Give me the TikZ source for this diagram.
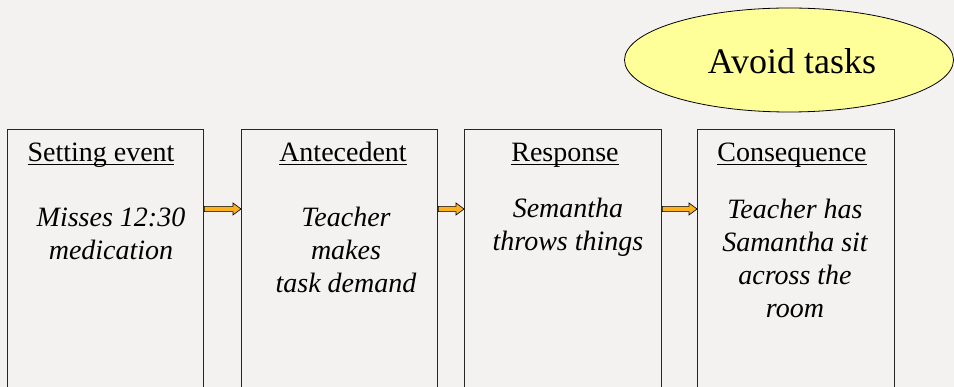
\documentclass[tikz,border=0pt]{standalone}
\usepackage{fontspec}
\setmainfont{Liberation Serif}[ItalicFont={Liberation Serif Italic},BoldFont={Liberation Serif Bold}]
\newcommand{\myunderline}[1]{\setbox0\hbox{#1}\rlap{\vrule width\wd0 height -1.6pt depth 3.2pt}#1}
\usetikzlibrary{shapes.geometric,calc}
\definecolor{bg}{HTML}{F3F2F0}
\definecolor{arr}{HTML}{FBB01E}
\definecolor{ell}{HTML}{FFFF99}
\begin{document}
\begin{tikzpicture}[x=1pt,y=-1pt,
  box/.style={draw=black!85, line width=1.3pt, minimum height=290pt, anchor=north west, inner sep=0pt},
  head/.style={font=\fontsize{28}{33.3}\selectfont, anchor=base, inner sep=0pt},
  body/.style={font=\fontsize{28}{33.3}\selectfont\itshape, align=center, anchor=base, inner sep=0pt},
  blockarrow/.style={draw=black, line width=0.6pt, fill=arr,
    to path={let \p1=(\tikztostart), \p2=(\tikztotarget) in
      (\x1,\y1+2.6pt) -- (\x2-8pt,\y1+2.6pt) -- (\x2-8pt,\y1+6pt) -- (\x2,\y1)
      -- (\x2-8pt,\y1-6pt) -- (\x2-8pt,\y1-2.6pt) -- (\x1,\y1-2.6pt) -- cycle}},
  oval/.style={ellipse, draw=black, line width=0.8pt, fill=ell, minimum width=329pt,
    minimum height=104pt, inner sep=0pt, font=\fontsize{36}{40}\selectfont}
]
\useasboundingbox (0,0) rectangle (954,387);
\fill[bg] (0,0) rectangle (954,387);
\clip (0,0) rectangle (954,387);

\node[oval] (av) at (789,60) {};
\node[font=\fontsize{36}{40}\selectfont, anchor=base, inner sep=0pt] (avt) at (792,74) {Avoid tasks};

\node[box, minimum width=196pt] (s1) at (7,129) {};
\node[box, minimum width=196pt] (s2) at (241,129) {};
\node[box, minimum width=197pt] (s3) at (464,129) {};
\node[box, minimum width=197pt] (s4) at (697,129) {};

\node[head] (h1) at (101,162) {\myunderline{Setting event}};
\node[head] (h2) at (343,162) {\myunderline{Antecedent}};
\node[head] (h3) at (565,162) {\myunderline{Response}};
\node[head] (h4) at (792,162) {\myunderline{Consequence}};

\node[body] (t1) at (111,260) {Misses 12:30\\medication};
\node[body] (t2) at (346,293) {Teacher\\makes\\task demand};
\node[body] (t3) at (568,251) {Semantha\\throws things};
\node[body] (t4) at (795,318) {Teacher has\\Samantha sit\\across the\\room};

\coordinate (r) at (0,209);
\draw[blockarrow] (s1.east |- r) to (s2.west |- r);
\draw[blockarrow] (s2.east |- r) to (s3.west |- r);
\draw[blockarrow] (s3.east |- r) to (s4.west |- r);
\end{tikzpicture}
\end{document}
